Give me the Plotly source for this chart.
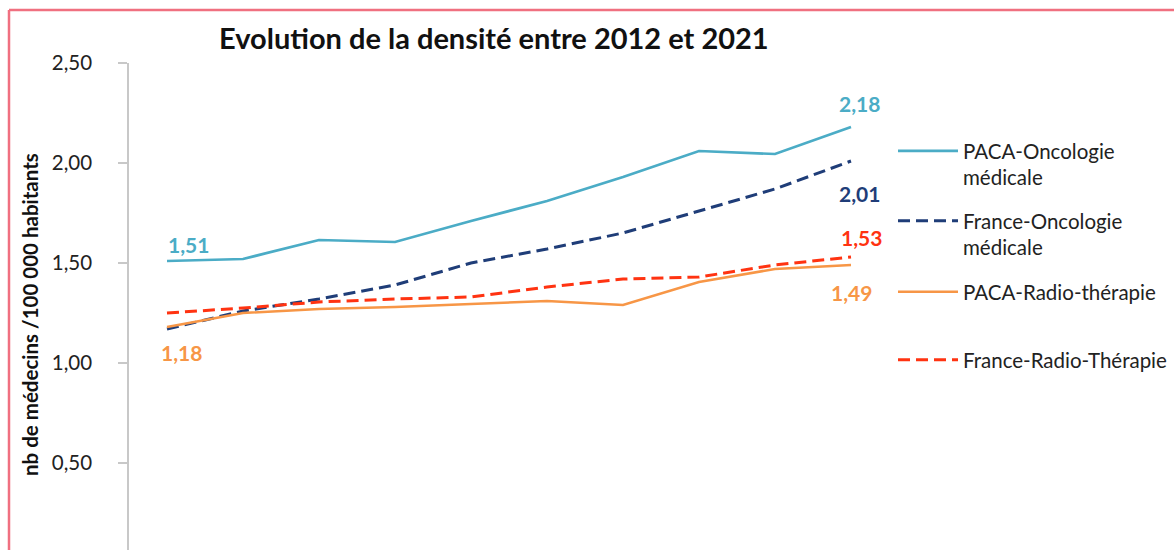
import plotly.graph_objects as go

years = [2012, 2013, 2014, 2015, 2016, 2017, 2018, 2019, 2020, 2021]

paca_onco = [1.51, 1.52, 1.615, 1.605, 1.71, 1.81, 1.93, 2.06, 2.045, 2.18]
france_onco = [1.17, 1.26, 1.32, 1.39, 1.50, 1.57, 1.65, 1.76, 1.87, 2.01]
paca_radio = [1.18, 1.25, 1.27, 1.28, 1.295, 1.31, 1.29, 1.405, 1.47, 1.49]
france_radio = [1.25, 1.275, 1.305, 1.32, 1.33, 1.38, 1.42, 1.43, 1.49, 1.53]

names = ["PACA-Oncologie<br>médicale", "France-Oncologie<br>médicale",
         "PACA-Radio-thérapie", "France-Radio-Thérapie"]
y_ticks = [0.5, 1.0, 1.5, 2.0, 2.5]

C_PACA_ONCO = "#4BACC6"
C_FR_ONCO = "#1F3D78"
C_PACA_RADIO = "#F79646"
C_FR_RADIO = "#FF3311"

FONT = "Lato"

W, H = 1174, 550
L, R, T, B = 129, 285, 63, 0
PW, PH = W - L - R, H - T - B


def px_x(p):
    return (p - L) / PW


def px_y(p):
    return (H - B - p) / PH


def fmt(v):
    return f"{v:.2f}".replace(".", ",")


fig = go.Figure()

series = [
    (paca_onco, C_PACA_ONCO, "solid", 2.7, "legend"),
    (france_onco, C_FR_ONCO, "12px,6px", 3, "legend2"),
    (paca_radio, C_PACA_RADIO, "solid", 2.5, "legend3"),
    (france_radio, C_FR_RADIO, "12px,6px", 3, "legend4"),
]
# draw order: France-Onco below the orange line at the start
order = [1, 0, 3, 2]
for i in order:
    vals, col, dash, w, lg = series[i]
    fig.add_trace(go.Scatter(
        x=years, y=vals, mode="lines", name=names[i],
        line=dict(color=col, width=w, dash=dash),
        legend=lg, hoverinfo="skip",
    ))

# data labels
labels = [
    (years[0], paca_onco[0], C_PACA_ONCO, 21, 17),
    (years[0], paca_radio[0], C_PACA_RADIO, 14, -25),
    (years[-1], paca_onco[-1], C_PACA_ONCO, 8, 24),
    (years[-1], france_onco[-1], C_FR_ONCO, 8, -32),
    (years[-1], france_radio[-1], C_FR_RADIO, 10, 20),
    (years[-1], paca_radio[-1], C_PACA_RADIO, 0, -27),
]
for x, y, col, dx, dy in labels:
    fig.add_annotation(x=x, y=y, xref="x", yref="y", text="<b>" + fmt(y) + "</b>",
                       showarrow=False, xshift=dx, yshift=dy,
                       font=dict(family=FONT, size=21, color=col))

# title
fig.add_annotation(x=px_x(494), y=px_y(38), xref="paper", yref="paper",
                   text="<b>Evolution de la densité entre 2012 et 2021</b>",
                   showarrow=False, xanchor="center", yanchor="middle",
                   font=dict(family=FONT, size=29, color="#111111"))

# y axis title
fig.add_annotation(x=px_x(30), y=px_y(315), xref="paper", yref="paper",
                   text="<b>nb de médecins /100 000 habitants</b>",
                   showarrow=False, textangle=-90, xanchor="center", yanchor="middle",
                   font=dict(family=FONT, size=20.5, color="#111111"))

# pink frame (left and top edges visible)
fig.add_shape(type="line", xref="paper", yref="paper",
              x0=px_x(9), x1=px_x(9), y0=px_y(10), y1=px_y(560),
              line=dict(color="#F07080", width=2.5))
fig.add_shape(type="line", xref="paper", yref="paper",
              x0=px_x(9), x1=px_x(1180), y0=px_y(10), y1=px_y(10),
              line=dict(color="#F07080", width=2.5))

leg_common = dict(font=dict(family=FONT, size=20.5, color="#222222"),
                  bgcolor="rgba(0,0,0,0)", itemwidth=60, valign="top",
                  xanchor="left", yanchor="top", tracegroupgap=0)
leg_y = [131, 201, 272, 340]
fig.update_layout(
    legend=dict(x=px_x(893), y=px_y(leg_y[0]), **leg_common),
    legend2=dict(x=px_x(893), y=px_y(leg_y[1]), **leg_common),
    legend3=dict(x=px_x(893), y=px_y(leg_y[2]), **leg_common),
    legend4=dict(x=px_x(893), y=px_y(leg_y[3]), **leg_common),
)

fig.update_layout(
    width=W, height=H,
    margin=dict(l=L, r=R, t=T, b=B),
    paper_bgcolor="white", plot_bgcolor="white",
    separators=", ",
    showlegend=True,
    xaxis=dict(range=[2011.5, 2021.5], showticklabels=False, showgrid=False,
               zeroline=False, showline=False, ticks=""),
    yaxis=dict(range=[2.5 - 487 / 200, 2.5], tickvals=y_ticks, tickformat=".2f",
               showgrid=False, zeroline=False, showline=True, linecolor="#C8C8C8",
               linewidth=1.5, ticks="outside", ticklen=9, tickcolor="#C8C8C8",
               tickwidth=1.5, ticklabelstandoff=22,
               tickfont=dict(family=FONT, size=20.5, color="#222222")),
)

# remove the default page margin so the figure sits at the window origin
fig.write_html("out.html", config={"displayModeBar": False},
               post_script="document.body.style.margin='0';")
